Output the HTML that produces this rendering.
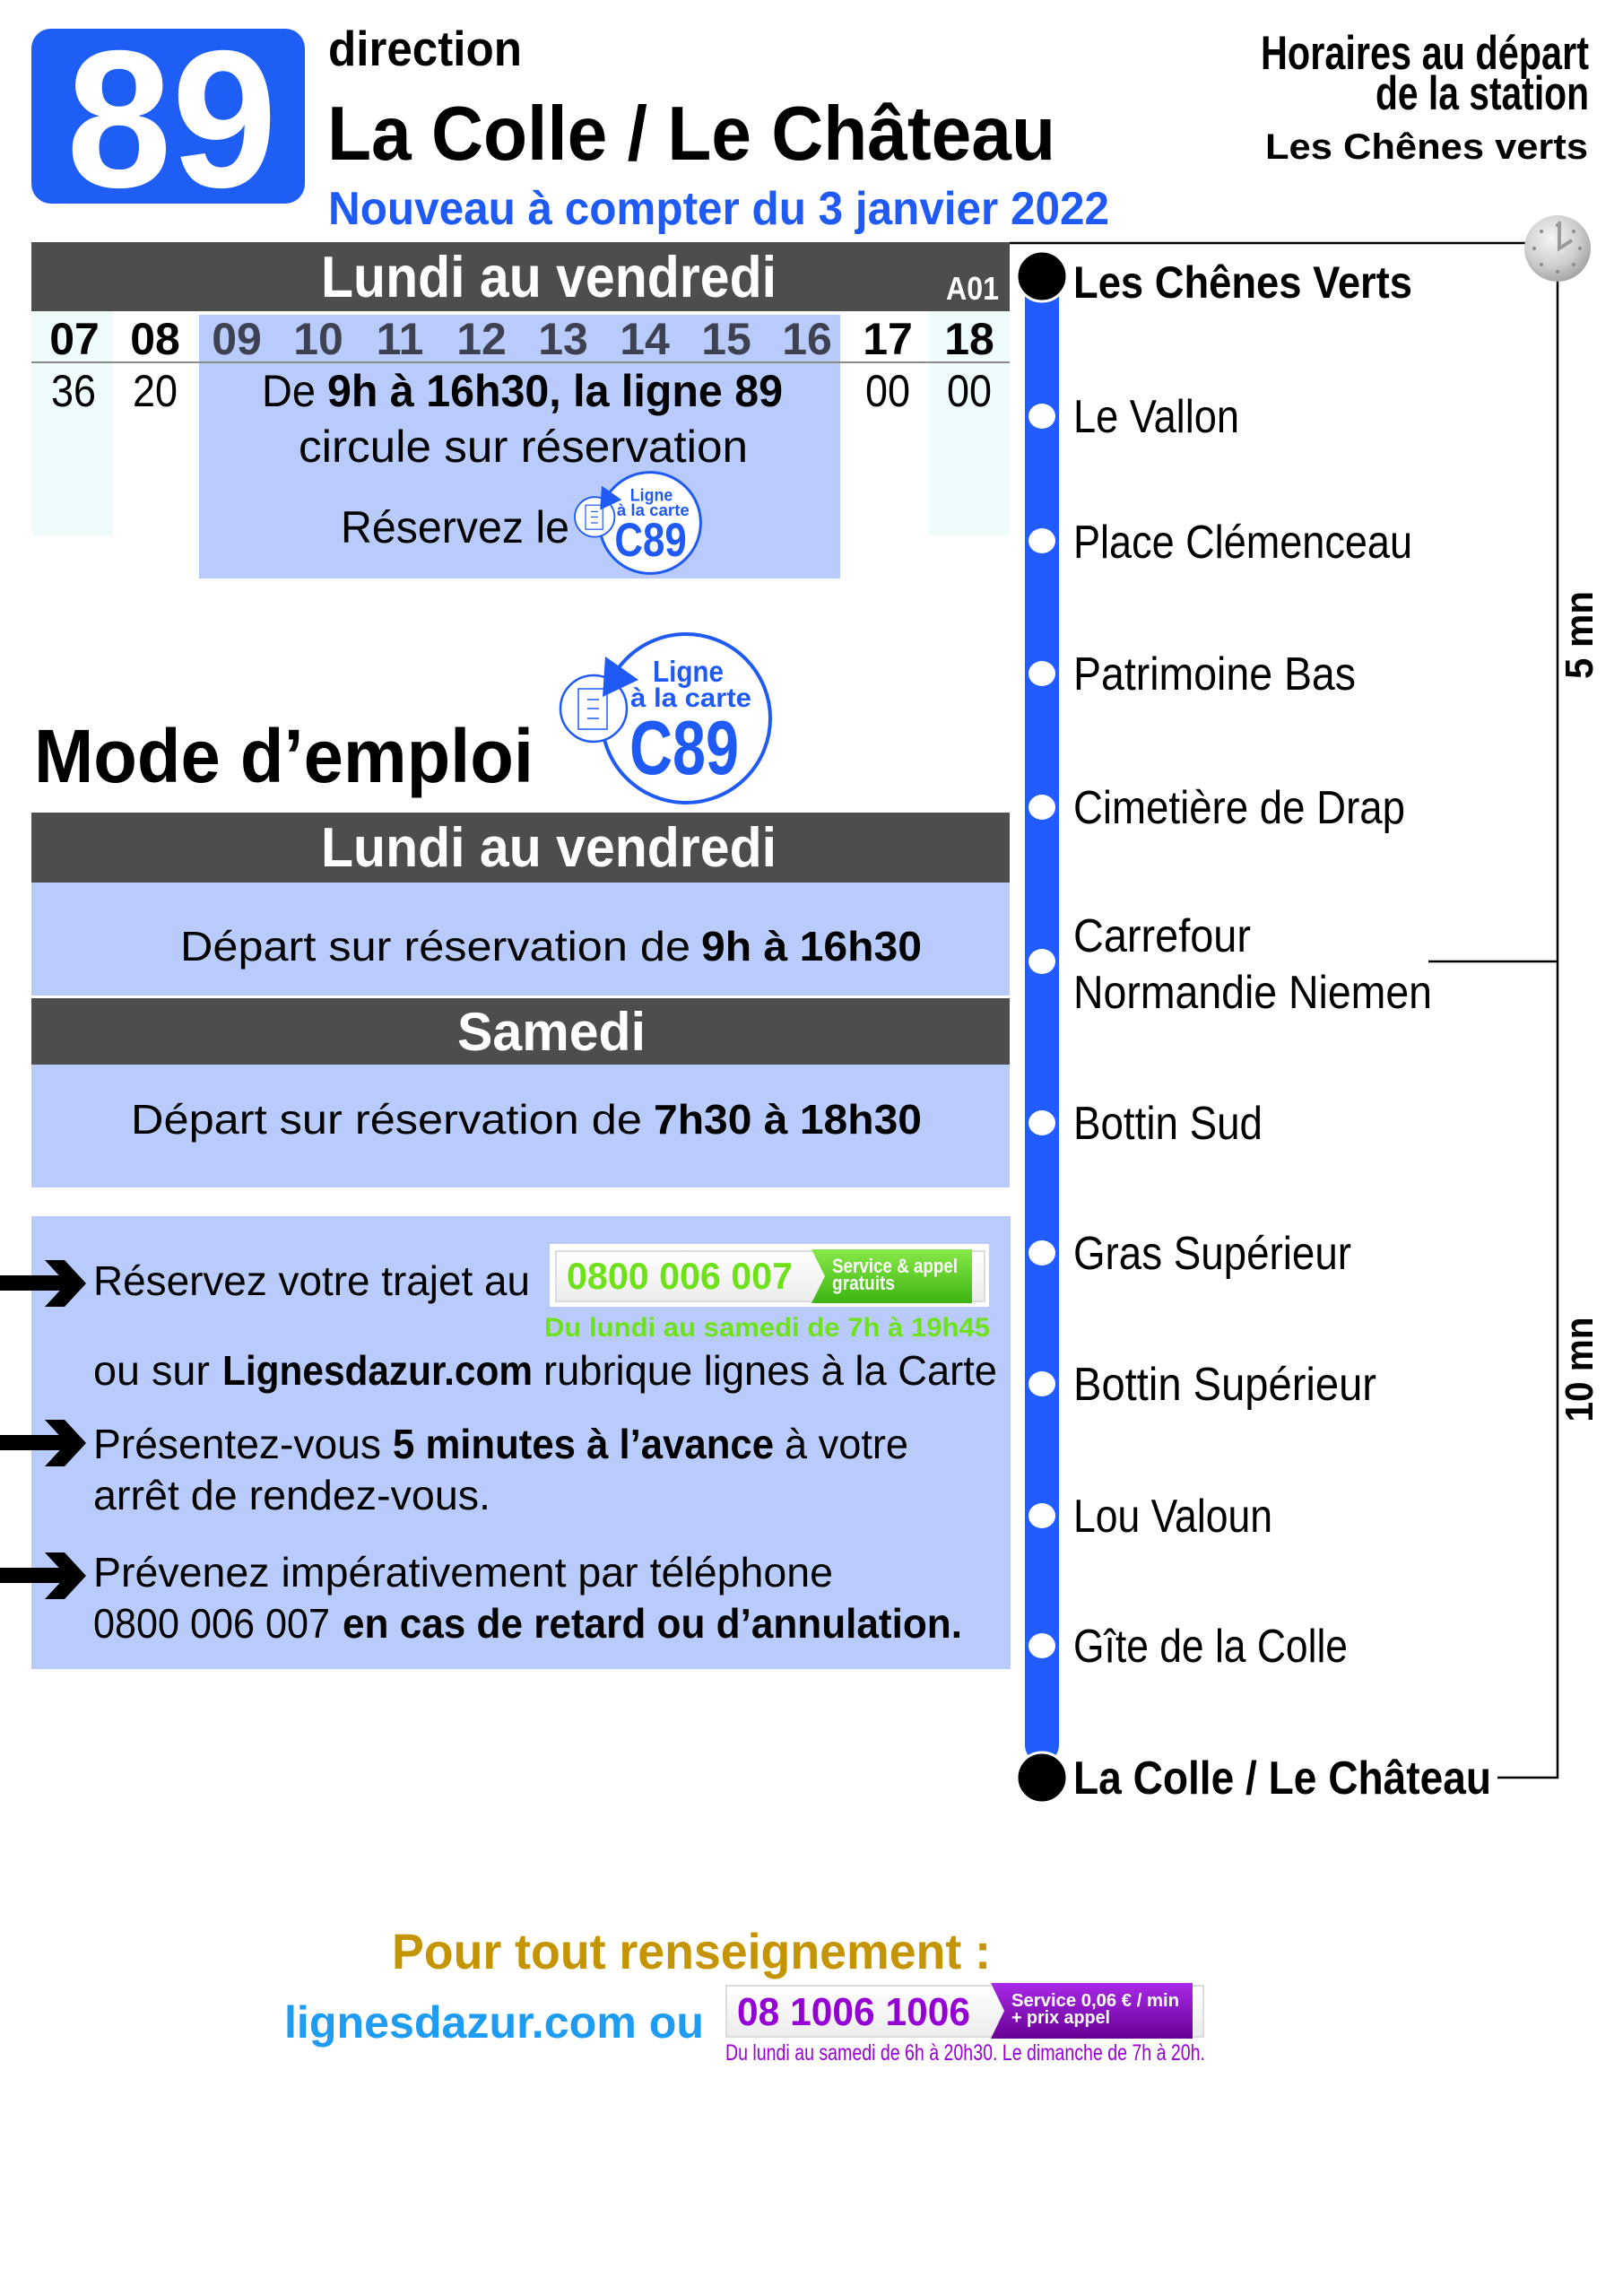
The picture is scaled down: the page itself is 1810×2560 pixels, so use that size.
<!DOCTYPE html>
<html>
<head>
<meta charset="utf-8">
<style>
html,body{margin:0;padding:0;background:#fff;}
svg{display:block;}
text{font-family:"Liberation Sans",Arial,sans-serif;}
</style>
</head>
<body>
<svg width="1810" height="2560" viewBox="0 0 1810 2560" xmlns="http://www.w3.org/2000/svg">
<defs>
<radialGradient id="clk" cx="0.4" cy="0.35" r="0.75">
<stop offset="0" stop-color="#f4f4f4"/><stop offset="0.55" stop-color="#cfcfcf"/><stop offset="1" stop-color="#979797"/>
</radialGradient>
<linearGradient id="grn" x1="0" y1="0" x2="0" y2="1">
<stop offset="0" stop-color="#88ea48"/><stop offset="1" stop-color="#3db312"/>
</linearGradient>
<linearGradient id="pur" x1="0" y1="0" x2="0" y2="1">
<stop offset="0" stop-color="#a82ae8"/><stop offset="1" stop-color="#680094"/>
</linearGradient>
<linearGradient id="box" x1="0" y1="0" x2="0" y2="1">
<stop offset="0" stop-color="#ffffff"/><stop offset="1" stop-color="#ececec"/>
</linearGradient>
</defs>

<rect x="0" y="0" width="1810" height="2560" fill="#ffffff"/>

<!-- Header -->
<rect x="35" y="32" width="305" height="195" rx="22" ry="22" fill="#1e5ef5"/>
<text x="74" y="208" font-size="218" font-weight="bold" fill="#ffffff" textLength="235" lengthAdjust="spacingAndGlyphs">89</text>
<text x="366" y="73" font-size="55" font-weight="bold" fill="#000" textLength="216" lengthAdjust="spacingAndGlyphs">direction</text>
<text x="365" y="178" font-size="85" font-weight="bold" fill="#000" textLength="812" lengthAdjust="spacingAndGlyphs">La Colle / Le Château</text>
<text x="366" y="250" font-size="52" font-weight="bold" fill="#1f5af5" textLength="871" lengthAdjust="spacingAndGlyphs">Nouveau à compter du 3 janvier 2022</text>

<text x="1406" y="77" font-size="53" font-weight="bold" fill="#000" textLength="366" lengthAdjust="spacingAndGlyphs">Horaires au départ</text>
<text x="1534" y="122" font-size="53" font-weight="bold" fill="#000" textLength="238" lengthAdjust="spacingAndGlyphs">de la station</text>
<text x="1411" y="177" font-size="40" font-weight="bold" fill="#000" textLength="360" lengthAdjust="spacingAndGlyphs">Les Chênes verts</text>

<!-- Timetable header bar -->
<rect x="35" y="270" width="1091" height="77" fill="#4d4d4d"/>
<text x="358" y="331" font-size="65" font-weight="bold" fill="#fff" textLength="508" lengthAdjust="spacingAndGlyphs">Lundi au vendredi</text>
<text x="1055" y="334" font-size="36" font-weight="bold" fill="#fff" textLength="59" lengthAdjust="spacingAndGlyphs">A01</text>

<!-- Timetable body -->
<rect x="35" y="347" width="91" height="250" fill="#effcfc"/>
<rect x="1036" y="347" width="90" height="250" fill="#effcfc"/>
<rect x="222" y="351" width="715" height="294" fill="#b8cbfb"/>
<line x1="35" y1="404" x2="1126" y2="404" stroke="#8a8a8a" stroke-width="2"/>

<g font-size="50" font-weight="bold" text-anchor="middle">
<text x="83" y="395" fill="#000">07</text>
<text x="173" y="395" fill="#000">08</text>
<text x="264" y="395" fill="#3d4152">09</text>
<text x="355" y="395" fill="#3d4152">10</text>
<text x="446" y="395" fill="#3d4152">11</text>
<text x="537" y="395" fill="#3d4152">12</text>
<text x="628" y="395" fill="#3d4152">13</text>
<text x="719" y="395" fill="#3d4152">14</text>
<text x="810" y="395" fill="#3d4152">15</text>
<text x="900" y="395" fill="#3d4152">16</text>
<text x="990" y="395" fill="#000">17</text>
<text x="1081" y="395" fill="#000">18</text>
</g>
<g font-size="50" text-anchor="middle" fill="#000">
<text x="82" y="453" textLength="50" lengthAdjust="spacingAndGlyphs">36</text>
<text x="173" y="453" textLength="50" lengthAdjust="spacingAndGlyphs">20</text>
<text x="990" y="453" textLength="50" lengthAdjust="spacingAndGlyphs">00</text>
<text x="1081" y="453" textLength="50" lengthAdjust="spacingAndGlyphs">00</text>
</g>
<text x="292" y="453" font-size="50" fill="#000" textLength="60" lengthAdjust="spacingAndGlyphs">De</text>
<text x="365" y="453" font-size="50" font-weight="bold" fill="#000" textLength="508" lengthAdjust="spacingAndGlyphs">9h à 16h30, la ligne 89</text>
<text x="333" y="515" font-size="50" fill="#000" textLength="501" lengthAdjust="spacingAndGlyphs">circule sur réservation</text>
<text x="380" y="605" font-size="50" fill="#000" textLength="255" lengthAdjust="spacingAndGlyphs">Réservez le</text>

<!-- Small C89 logo -->
<g transform="translate(725,583) scale(0.6)">
<circle cx="0" cy="0" r="94" fill="#fff" stroke="#1f5af5" stroke-width="5"/>
<circle cx="-103" cy="-11" r="37" fill="#fff" stroke="#1f5af5" stroke-width="3"/>
<rect x="-120" y="-33" width="32" height="45" fill="#fff" stroke="#1f5af5" stroke-width="2"/>
<line x1="-110" y1="-21" x2="-97" y2="-21" stroke="#1f5af5" stroke-width="2"/>
<line x1="-110" y1="-11" x2="-97" y2="-11" stroke="#1f5af5" stroke-width="2"/>
<line x1="-110" y1="0" x2="-97" y2="0" stroke="#1f5af5" stroke-width="2"/>
<polygon points="-90,-69 -53,-43 -93,-24" fill="#1f5af5"/>
<text x="-37" y="-41" font-size="33" font-weight="bold" fill="#1f5af5" textLength="79" lengthAdjust="spacingAndGlyphs">Ligne</text>
<text x="-62" y="-13" font-size="30" font-weight="bold" fill="#1f5af5" textLength="135" lengthAdjust="spacingAndGlyphs">à la carte</text>
<text x="-66" y="62" font-size="88" font-weight="bold" fill="#1f5af5" textLength="134" lengthAdjust="spacingAndGlyphs">C89</text>
</g>

<!-- Mode d'emploi -->
<text x="38" y="872" font-size="84" font-weight="bold" fill="#000" textLength="557" lengthAdjust="spacingAndGlyphs">Mode d’emploi</text>

<!-- Big C89 logo -->
<g transform="translate(765,801)">
<circle cx="0" cy="0" r="94" fill="#fff" stroke="#1f5af5" stroke-width="4"/>
<circle cx="-103" cy="-11" r="37" fill="#fff" stroke="#1f5af5" stroke-width="2.5"/>
<rect x="-120" y="-33" width="32" height="45" fill="#fff" stroke="#1f5af5" stroke-width="1.5"/>
<line x1="-110" y1="-21" x2="-97" y2="-21" stroke="#1f5af5" stroke-width="1.5"/>
<line x1="-110" y1="-11" x2="-97" y2="-11" stroke="#1f5af5" stroke-width="1.5"/>
<line x1="-110" y1="0" x2="-97" y2="0" stroke="#1f5af5" stroke-width="1.5"/>
<polygon points="-90,-69 -53,-43 -93,-24" fill="#1f5af5"/>
<text x="-37" y="-41" font-size="33" font-weight="bold" fill="#1f5af5" textLength="79" lengthAdjust="spacingAndGlyphs">Ligne</text>
<text x="-62" y="-13" font-size="30" font-weight="bold" fill="#1f5af5" textLength="135" lengthAdjust="spacingAndGlyphs">à la carte</text>
<text x="-63" y="62" font-size="85" font-weight="bold" fill="#1f5af5" textLength="122" lengthAdjust="spacingAndGlyphs">C89</text>
</g>

<!-- Lundi au vendredi -->
<rect x="35" y="906" width="1091" height="78" fill="#4d4d4d"/>
<text x="358" y="966" font-size="62" font-weight="bold" fill="#fff" textLength="508" lengthAdjust="spacingAndGlyphs">Lundi au vendredi</text>
<rect x="35" y="984" width="1091" height="126" fill="#b8cbfb"/>
<text x="201" y="1071" font-size="46" fill="#000" textLength="569" lengthAdjust="spacingAndGlyphs">Départ sur réservation de</text>
<text x="782" y="1071" font-size="46" font-weight="bold" fill="#000" textLength="246" lengthAdjust="spacingAndGlyphs">9h à 16h30</text>

<!-- Samedi -->
<rect x="35" y="1113" width="1091" height="74" fill="#4d4d4d"/>
<text x="510" y="1171" font-size="60" font-weight="bold" fill="#fff" textLength="210" lengthAdjust="spacingAndGlyphs">Samedi</text>
<rect x="35" y="1187" width="1091" height="137" fill="#b8cbfb"/>
<text x="146" y="1264" font-size="46" fill="#000" textLength="570" lengthAdjust="spacingAndGlyphs">Départ sur réservation de</text>
<text x="729" y="1264" font-size="46" font-weight="bold" fill="#000" textLength="299" lengthAdjust="spacingAndGlyphs">7h30 à 18h30</text>

<!-- Reservation box -->
<rect x="35" y="1356" width="1092" height="505" fill="#b8cbfb"/>

<g fill="#000">
<rect x="0" y="1422" width="74" height="17"/>
<polygon points="50,1405 72,1405 96,1431 72,1457 50,1457 74,1431"/>
<rect x="0" y="1600" width="74" height="17"/>
<polygon points="50,1583 72,1583 96,1609 72,1635 50,1635 74,1609"/>
<rect x="0" y="1748" width="74" height="17"/>
<polygon points="50,1731 72,1731 96,1757 72,1783 50,1783 74,1757"/>
</g>

<text x="104" y="1444" font-size="46" fill="#000" textLength="487" lengthAdjust="spacingAndGlyphs">Réservez votre trajet au</text>

<rect x="613" y="1387" width="490" height="70" fill="#fff"/>
<rect x="620" y="1395" width="478" height="56" fill="url(#box)" stroke="#dcdcdc" stroke-width="2"/>
<text x="632" y="1437" font-size="42" font-weight="bold" fill="#6fe11b" textLength="252" lengthAdjust="spacingAndGlyphs">0800 006 007</text>
<polygon points="905,1393 1084,1393 1084,1453 905,1453 920,1423" fill="url(#grn)"/>
<text x="928" y="1419" font-size="22" font-weight="bold" fill="#fff" textLength="140" lengthAdjust="spacingAndGlyphs">Service &amp; appel</text>
<text x="928" y="1438" font-size="22" font-weight="bold" fill="#fff" textLength="70" lengthAdjust="spacingAndGlyphs">gratuits</text>
<text x="607" y="1490" font-size="30" font-weight="bold" fill="#6fe11b" textLength="497" lengthAdjust="spacingAndGlyphs">Du lundi au samedi de 7h à 19h45</text>

<text x="104" y="1544" font-size="46" fill="#000" textLength="130" lengthAdjust="spacingAndGlyphs">ou sur</text>
<text x="248" y="1544" font-size="46" font-weight="bold" fill="#000" textLength="346" lengthAdjust="spacingAndGlyphs">Lignesdazur.com</text>
<text x="606" y="1544" font-size="46" fill="#000" textLength="506" lengthAdjust="spacingAndGlyphs">rubrique lignes à la Carte</text>

<text x="104" y="1626" font-size="46" fill="#000" textLength="321" lengthAdjust="spacingAndGlyphs">Présentez-vous</text>
<text x="438" y="1626" font-size="46" font-weight="bold" fill="#000" textLength="425" lengthAdjust="spacingAndGlyphs">5 minutes à l’avance</text>
<text x="875" y="1626" font-size="46" fill="#000" textLength="138" lengthAdjust="spacingAndGlyphs">à votre</text>
<text x="104" y="1683" font-size="46" fill="#000" textLength="443" lengthAdjust="spacingAndGlyphs">arrêt de rendez-vous.</text>

<text x="104" y="1769" font-size="46" fill="#000" textLength="825" lengthAdjust="spacingAndGlyphs">Prévenez impérativement par téléphone</text>
<text x="104" y="1826" font-size="46" fill="#000" textLength="264" lengthAdjust="spacingAndGlyphs">0800 006 007</text>
<text x="382" y="1826" font-size="46" font-weight="bold" fill="#000" textLength="691" lengthAdjust="spacingAndGlyphs">en cas de retard ou d’annulation.</text>

<!-- Line diagram -->
<line x1="1126" y1="271" x2="1705" y2="271" stroke="#000" stroke-width="2.5"/>
<line x1="1737" y1="300" x2="1737" y2="1983" stroke="#000" stroke-width="2.5"/>
<line x1="1670" y1="1982" x2="1738" y2="1982" stroke="#000" stroke-width="2.5"/>
<line x1="1593" y1="1072" x2="1737" y2="1072" stroke="#000" stroke-width="2.5"/>

<circle cx="1737" cy="277" r="37" fill="url(#clk)"/>
<g fill="#8c8c8c">
<circle cx="1737" cy="251" r="2"/>
<circle cx="1755" cy="258" r="2"/>
<circle cx="1762" cy="277" r="2"/>
<circle cx="1755" cy="295" r="2"/>
<circle cx="1737" cy="303" r="2"/>
<circle cx="1719" cy="295" r="2"/>
<circle cx="1711" cy="277" r="2"/>
<circle cx="1719" cy="258" r="2"/>
</g>
<polyline points="1739,247 1739,277 1753,268" fill="none" stroke="#9a9a9a" stroke-width="4"/>

<text x="1776" y="708" transform="rotate(-90 1776 708)" text-anchor="middle" font-size="44" font-weight="bold" fill="#000" textLength="98" lengthAdjust="spacingAndGlyphs">5 mn</text>
<text x="1776" y="1527" transform="rotate(-90 1776 1527)" text-anchor="middle" font-size="44" font-weight="bold" fill="#000" textLength="117" lengthAdjust="spacingAndGlyphs">10 mn</text>

<rect x="1143" y="300" width="38" height="1665" rx="19" fill="#215cff"/>
<circle cx="1162" cy="308" r="28" fill="#000" stroke="#fff" stroke-width="3"/>
<circle cx="1162" cy="1982" r="28" fill="#000" stroke="#fff" stroke-width="3"/>
<g fill="#fff">
<ellipse cx="1162" cy="464" rx="15" ry="14"/>
<ellipse cx="1162" cy="603" rx="15" ry="14"/>
<ellipse cx="1162" cy="751" rx="15" ry="14"/>
<ellipse cx="1162" cy="900" rx="15" ry="14"/>
<ellipse cx="1162" cy="1072" rx="15" ry="14"/>
<ellipse cx="1162" cy="1252" rx="15" ry="14"/>
<ellipse cx="1162" cy="1397" rx="15" ry="14"/>
<ellipse cx="1162" cy="1543" rx="15" ry="14"/>
<ellipse cx="1162" cy="1690" rx="15" ry="14"/>
<ellipse cx="1162" cy="1835" rx="15" ry="14"/>
</g>

<text x="1197" y="332" font-size="50" font-weight="bold" fill="#000" textLength="378" lengthAdjust="spacingAndGlyphs">Les Chênes Verts</text>
<g font-size="52" fill="#000">
<text x="1197" y="482" textLength="185" lengthAdjust="spacingAndGlyphs">Le Vallon</text>
<text x="1197" y="622" textLength="378" lengthAdjust="spacingAndGlyphs">Place Clémenceau</text>
<text x="1197" y="769" textLength="315" lengthAdjust="spacingAndGlyphs">Patrimoine Bas</text>
<text x="1197" y="918" textLength="370" lengthAdjust="spacingAndGlyphs">Cimetière de Drap</text>
<text x="1197" y="1061" textLength="198" lengthAdjust="spacingAndGlyphs">Carrefour</text>
<text x="1197" y="1124" textLength="400" lengthAdjust="spacingAndGlyphs">Normandie Niemen</text>
<text x="1197" y="1270" textLength="211" lengthAdjust="spacingAndGlyphs">Bottin Sud</text>
<text x="1197" y="1415" textLength="310" lengthAdjust="spacingAndGlyphs">Gras Supérieur</text>
<text x="1197" y="1561" textLength="338" lengthAdjust="spacingAndGlyphs">Bottin Supérieur</text>
<text x="1197" y="1708" textLength="222" lengthAdjust="spacingAndGlyphs">Lou Valoun</text>
<text x="1197" y="1853" textLength="306" lengthAdjust="spacingAndGlyphs">Gîte de la Colle</text>
</g>
<text x="1197" y="2000" font-size="52" font-weight="bold" fill="#000" textLength="466" lengthAdjust="spacingAndGlyphs">La Colle / Le Château</text>

<!-- Footer -->
<text x="437" y="2195" font-size="56" font-weight="bold" fill="#c49500" textLength="668" lengthAdjust="spacingAndGlyphs">Pour tout renseignement :</text>
<text x="317" y="2272" font-size="50" font-weight="bold" fill="#1e9cf2" textLength="468" lengthAdjust="spacingAndGlyphs">lignesdazur.com ou</text>

<rect x="810" y="2214" width="532" height="57" fill="url(#box)" stroke="#dcdcdc" stroke-width="2"/>
<text x="822" y="2258" font-size="44" font-weight="bold" fill="#9400d3" textLength="260" lengthAdjust="spacingAndGlyphs">08 1006 1006</text>
<polygon points="1105,2211 1330,2211 1330,2273 1105,2273 1120,2242" fill="url(#pur)"/>
<text x="1128" y="2237" font-size="20" font-weight="bold" fill="#fff" textLength="187" lengthAdjust="spacingAndGlyphs">Service 0,06 € / min</text>
<text x="1128" y="2256" font-size="20" font-weight="bold" fill="#fff" textLength="110" lengthAdjust="spacingAndGlyphs">+ prix appel</text>
<text x="809" y="2297" font-size="25" fill="#9b00d8" textLength="535" lengthAdjust="spacingAndGlyphs">Du lundi au samedi de 6h à 20h30. Le dimanche de 7h à 20h.</text>
</svg>
</body>
</html>
